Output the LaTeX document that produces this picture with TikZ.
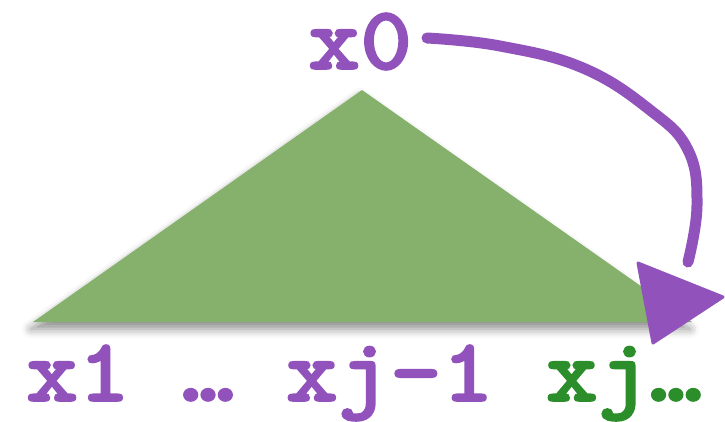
\documentclass[tikz,border=0pt]{standalone}
\usepackage{fontspec}
\newfontfamily\courfont{lmmonolt10-bold.otf}[FakeBold=1.8,FakeStretch=1.1]
\usetikzlibrary{shadows.blur}
\definecolor{tripurple}{HTML}{9153BB}
\definecolor{trigreen}{HTML}{86B16C}
\definecolor{txtgreen}{HTML}{2B8E2B}
\tikzset{
  lbl/.style={anchor=base west, inner sep=0pt, font=\fontsize{90}{90}\selectfont\courfont, text=tripurple},
  tri/.style={fill=trigreen, draw=none, blur shadow={shadow xshift=-2pt, shadow yshift=-7pt, shadow blur radius=9pt, shadow opacity=45}},
  chalk/.style={draw=tripurple, line width=11pt, line cap=round, line join=round}
}
\begin{document}
\begin{tikzpicture}[x=1pt,y=-1pt]
\useasboundingbox (0,0) rectangle (725,421);
\coordinate (apex) at (362,90);
\coordinate (bl) at (33,322);
\coordinate (br) at (692,322);
\fill[tri] (apex) -- (bl) -- (br) -- cycle;
\node[lbl] (top) at (308,69) {x0};
\node[lbl] (bottom) at (26,401) {x1 … xj-1 \textcolor{txtgreen}{xj…}};
\coordinate (s) at (427,38);
\coordinate (e) at (688,262);
\draw[chalk] plot[smooth, tension=0.7] coordinates {(s) (500,46) (583,68) (650,110) (688,150) (697,205) (e)};
\coordinate (h1) at (638,263);
\coordinate (h2) at (723,297);
\coordinate (h3) at (653,343);
\fill[tripurple, draw=tripurple, line width=3pt, line join=round] (h1) -- (h2) -- (h3) -- cycle;
\end{tikzpicture}
\end{document}
